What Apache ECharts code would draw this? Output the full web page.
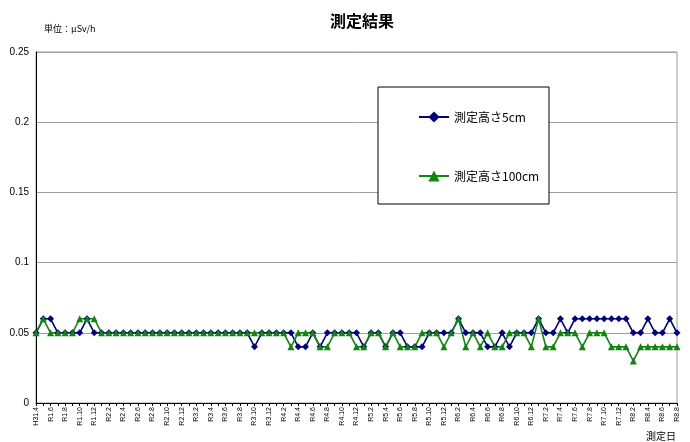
<!DOCTYPE html>
<html>
<head>
<meta charset="utf-8">
<script src="https://cdn.jsdelivr.net/npm/echarts@6/dist/echarts.min.js"></script>
<style>
html,body{margin:0;padding:0;background:#fff;}
#main{width:690px;height:442px;}
</style>
</head>
<body>
<div id="main"></div>
<script>
// 測定月（ラベルは1か月おきに表示）
var months = [
    'H31.4','R1.5','R1.6','R1.7','R1.8','R1.9','R1.10','R1.11','R1.12',
    'R2.1','R2.2','R2.3','R2.4','R2.5','R2.6','R2.7','R2.8','R2.9','R2.10','R2.11','R2.12',
    'R3.1','R3.2','R3.3','R3.4','R3.5','R3.6','R3.7','R3.8','R3.9','R3.10','R3.11','R3.12',
    'R4.1','R4.2','R4.3','R4.4','R4.5','R4.6','R4.7','R4.8','R4.9','R4.10','R4.11','R4.12',
    'R5.1','R5.2','R5.3','R5.4','R5.5','R5.6','R5.7','R5.8','R5.9','R5.10','R5.11','R5.12',
    'R6.1','R6.2','R6.3','R6.4','R6.5','R6.6','R6.7','R6.8','R6.9','R6.10','R6.11','R6.12',
    'R7.1','R7.2','R7.3','R7.4','R7.5','R7.6','R7.7','R7.8','R7.9','R7.10','R7.11','R7.12',
    'R8.1','R8.2','R8.3','R8.4','R8.5','R8.6','R8.7','R8.8'
];

// 測定高さ5cm
var takasa5 = [
    0.05,0.06,0.06,0.05,0.05,0.05,0.05,0.06,0.05,0.05,
    0.05,0.05,0.05,0.05,0.05,0.05,0.05,0.05,0.05,0.05,
    0.05,0.05,0.05,0.05,0.05,0.05,0.05,0.05,0.05,0.05,
    0.04,0.05,0.05,0.05,0.05,0.05,0.04,0.04,0.05,0.04,
    0.05,0.05,0.05,0.05,0.05,0.04,0.05,0.05,0.04,0.05,
    0.05,0.04,0.04,0.04,0.05,0.05,0.05,0.05,0.06,0.05,
    0.05,0.05,0.04,0.04,0.05,0.04,0.05,0.05,0.05,0.06,
    0.05,0.05,0.06,0.05,0.06,0.06,0.06,0.06,0.06,0.06,
    0.06,0.06,0.05,0.05,0.06,0.05,0.05,0.06,0.05
];

// 測定高さ100cm
var takasa100 = [
    0.05,0.06,0.05,0.05,0.05,0.05,0.06,0.06,0.06,0.05,
    0.05,0.05,0.05,0.05,0.05,0.05,0.05,0.05,0.05,0.05,
    0.05,0.05,0.05,0.05,0.05,0.05,0.05,0.05,0.05,0.05,
    0.05,0.05,0.05,0.05,0.05,0.04,0.05,0.05,0.05,0.04,
    0.04,0.05,0.05,0.05,0.04,0.04,0.05,0.05,0.04,0.05,
    0.04,0.04,0.04,0.05,0.05,0.05,0.04,0.05,0.06,0.04,
    0.05,0.04,0.05,0.04,0.04,0.05,0.05,0.05,0.04,0.06,
    0.04,0.04,0.05,0.05,0.05,0.04,0.05,0.05,0.05,0.04,
    0.04,0.04,0.03,0.04,0.04,0.04,0.04,0.04,0.04
];

var seriesNames = ['測定高さ5cm', '測定高さ100cm'];

var jp = '"Noto Sans CJK JP", sans-serif';
var num = '"Liberation Sans", Arial, sans-serif';

var myChart = echarts.init(document.getElementById('main'));
myChart.setOption({
    animation: false,
    backgroundColor: '#fff',
    title: [
        {
            text: '測定結果',
            left: 325,
            top: 8,
            textStyle: {fontFamily: jp, fontSize: 16, fontWeight: 'bold', color: '#000'}
        },
        {
            text: '単位：μSv/h',
            left: 39,
            top: 19,
            textStyle: {fontFamily: jp, fontSize: 9, fontWeight: 'normal', color: '#000'}
        },
        {
            text: '測定日',
            left: 641,
            top: 426,
            textStyle: {fontFamily: jp, fontSize: 10, fontWeight: 'normal', color: '#000'}
        }
    ],
    graphic: [
        {
            type: 'rect',
            z: 3,
            shape: {x: 378, y: 87, width: 171, height: 117},
            style: {fill: '#fff', stroke: '#000', lineWidth: 1}
        }
    ],
    legend: {
        orient: 'vertical',
        left: 418,
        top: 111,
        padding: 0,
        itemGap: 47,
        itemWidth: 30,
        itemHeight: 14,
        z: 5,
        textStyle: {fontFamily: jp, fontSize: 12, color: '#000'},
        data: seriesNames
    },
    grid: {
        left: 36,
        right: 13,
        top: 52,
        bottom: 39,
        show: true,
        borderColor: '#9a9a9a',
        borderWidth: 1
    },
    xAxis: {
        type: 'category',
        boundaryGap: false,
        data: months,
        axisLine: {lineStyle: {color: '#000', width: 1}},
        axisTick: {interval: 0, length: 3, lineStyle: {color: '#000'}},
        axisLabel: {
            interval: 1,
            rotate: 90,
            margin: 4,
            fontSize: 7,
            fontFamily: num,
            color: '#000'
        },
        splitLine: {show: false}
    },
    yAxis: {
        type: 'value',
        min: 0,
        max: 0.25,
        interval: 0.05,
        axisLine: {show: true, lineStyle: {color: '#000', width: 1}},
        axisTick: {show: false},
        axisLabel: {fontSize: 10, fontFamily: num, color: '#000', margin: 7},
        splitLine: {lineStyle: {color: '#a0a0a0', width: 1}}
    },
    series: [
        {
            name: seriesNames[0],
            type: 'line',
            data: takasa5,
            symbol: 'diamond',
            symbolSize: 7,
            showAllSymbol: true,
            lineStyle: {color: '#000080', width: 1.6},
            itemStyle: {color: '#000080'}
        },
        {
            name: seriesNames[1],
            type: 'line',
            data: takasa100,
            symbol: 'triangle',
            symbolSize: 7,
            showAllSymbol: true,
            lineStyle: {color: '#0f870f', width: 1.6},
            itemStyle: {color: '#0f870f'}
        }
    ]
});
</script>
</body>
</html>
